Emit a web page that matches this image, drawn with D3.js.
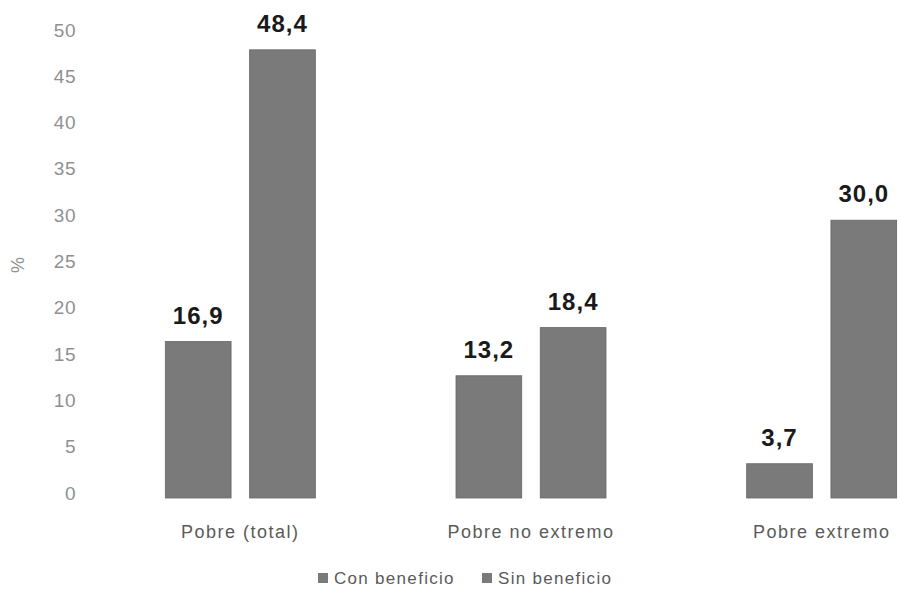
<!DOCTYPE html>
<html>
<head>
<meta charset="utf-8">
<script src="https://cdn.jsdelivr.net/npm/d3@7"></script>
<style>
  body { margin: 0; background: #fff; }
  svg { font-family: "Liberation Sans", Arial, sans-serif; }
</style>
</head>
<body>
<svg id="chart" width="901" height="590"></svg>
<script>
const categories = ["Pobre (total)", "Pobre no extremo", "Pobre extremo"];
const series = ["Con beneficio", "Sin beneficio"];
const conBeneficio = [16.9, 13.2, 3.7];
const sinBeneficio = [48.4, 18.4, 30.0];
const yTicks = [0, 5, 10, 15, 20, 25, 30, 35, 40, 45, 50];

const svg = d3.select("#chart");
const colour = "#7a7a7a";

const x = d3.scaleBand().domain(categories).range([95, 967]);
const xInner = d3.scaleBand().domain(series).range([0, 150]).paddingInner(0.22);
const y = d3.scaleLinear().domain([0, 50]).range([498, 35]);

const rows = categories.map((c, i) => ({
    cat: c,
    values: [
        { key: series[0], value: conBeneficio[i] },
        { key: series[1], value: sinBeneficio[i] }
    ]
}));

// y axis labels only, no line
const yAxis = svg.append("g")
    .attr("transform", "translate(76,0)")
    .call(d3.axisLeft(y).tickValues(yTicks).tickSize(0).tickPadding(0));
yAxis.select(".domain").remove();
yAxis.selectAll("text")
    .attr("font-size", 19)
    .attr("fill", "#909090")
    .attr("letter-spacing", 0.5)
    .attr("y", -5);

svg.append("text")
    .attr("transform", "translate(24,265) rotate(-90)")
    .attr("text-anchor", "middle")
    .attr("font-size", 18)
    .attr("fill", "#909090")
    .text("%");

const groups = svg.selectAll(".grp")
    .data(rows)
    .join("g")
    .attr("class", "grp")
    .attr("transform", d => `translate(${x(d.cat) + (x.bandwidth() - 150) / 2},0)`);

groups.selectAll("rect")
    .data(d => d.values)
    .join("rect")
    .attr("x", d => xInner(d.key))
    .attr("width", xInner.bandwidth())
    .attr("y", d => y(d.value))
    .attr("height", d => y(0) - y(d.value))
    .attr("fill", colour)
    .attr("stroke", "#666")
    .attr("stroke-width", 0.8);

groups.selectAll(".val")
    .data(d => d.values)
    .join("text")
    .attr("class", "val")
    .attr("x", d => xInner(d.key) + xInner.bandwidth() / 2)
    .attr("y", d => y(d.value) - 18)
    .attr("text-anchor", "middle")
    .attr("font-size", 24)
    .attr("font-weight", "bold")
    .attr("letter-spacing", 1)
    .attr("fill", "#1a1a1a")
    .text(d => d3.format(".1f")(d.value).replace(".", ","));

svg.selectAll(".cat")
    .data(categories)
    .join("text")
    .attr("class", "cat")
    .attr("x", d => x(d) + x.bandwidth() / 2)
    .attr("y", 538)
    .attr("text-anchor", "middle")
    .attr("font-size", 18)
    .attr("letter-spacing", 1.5)
    .attr("fill", "#5a5a5a")
    .text(d => d);

// legend
const legend = svg.append("g").attr("transform", "translate(318,579)");
const items = legend.selectAll("g")
    .data(series)
    .join("g")
    .attr("transform", (d, i) => `translate(${i * 164},0)`);
items.append("rect")
    .attr("x", 0).attr("y", -6)
    .attr("width", 10).attr("height", 10)
    .attr("fill", colour);
items.append("text")
    .attr("x", 16).attr("y", 5)
    .attr("font-size", 17)
    .attr("letter-spacing", 1.3)
    .attr("fill", "#5a5a5a")
    .text(d => d);
</script>
</body>
</html>
